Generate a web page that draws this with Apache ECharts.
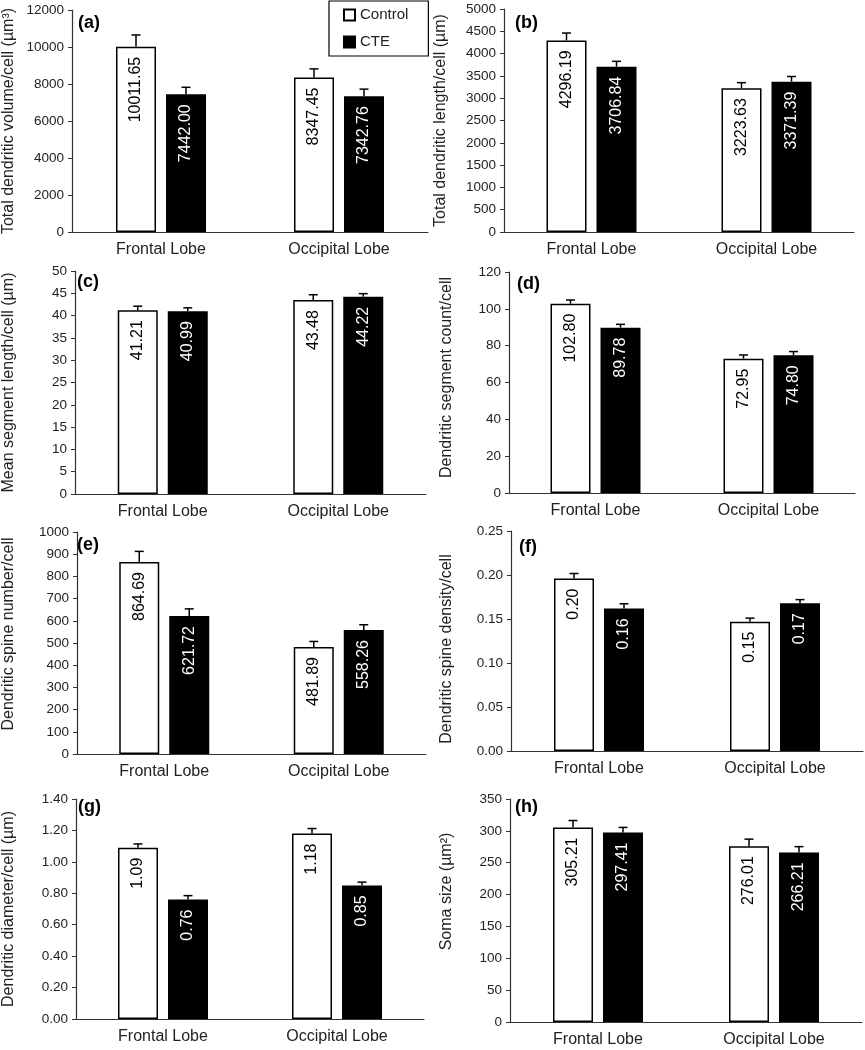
<!DOCTYPE html>
<html>
<head>
<meta charset="utf-8">
<script src="https://cdn.jsdelivr.net/npm/echarts@6/dist/echarts.min.js"></script>
<style>
html,body{margin:0;padding:0;background:#fff;}
#chart{width:865px;height:1050px;}
</style>
</head>
<body>
<div id="chart"></div>
<script>
// ---- data ----
const categories = ['Frontal Lobe', 'Occipital Lobe'];
const seriesNames = ['Control', 'CTE'];
const panelLetters = ['(a)', '(b)', '(c)', '(d)', '(e)', '(f)', '(g)', '(h)'];
const yTitles = [
  'Total dendritic volume/cell (\u00b5m\u00b3)',
  'Total dendritic length/cell (\u00b5m)',
  'Mean segment length/cell (\u00b5m)',
  'Dendritic segment count/cell',
  'Dendritic spine number/cell',
  'Dendritic spine density/cell',
  'Dendritic diameter/cell (\u00b5m)',
  'Soma size (\u00b5m\u00b2)'
];
const yMax = [12000, 5000, 50, 120, 1000, 0.25, 1.40, 350];
const yInterval = [2000, 500, 5, 20, 100, 0.05, 0.20, 50];
const yDecimals = [0, 0, 0, 0, 0, 2, 2, 0];

const controlA = [10011.65, 8347.45], cteA = [7442.00, 7342.76];
const errControlA = [640, 470],       errCteA = [380, 380];
const controlB = [4296.19, 3223.63],  cteB = [3706.84, 3371.39];
const errControlB = [165, 125],       errCteB = [120, 115];
const controlC = [41.21, 43.48],      cteC = [40.99, 44.22];
const errControlC = [0.9, 1.2],       errCteC = [0.75, 0.7];
const controlD = [102.80, 72.95],     cteD = [89.78, 74.80];
const errControlD = [2.0, 2.0],       errCteD = [1.8, 2.0];
const controlE = [864.69, 481.89],    cteE = [621.72, 558.26];
const errControlE = [48, 25],         errCteE = [32, 24];
const controlF = [0.196, 0.147],      cteF = [0.162, 0.168];
const errControlF = [0.0057, 0.004],  errCteF = [0.0053, 0.004];
const controlG = [1.09, 1.18],        cteG = [0.76, 0.85];
const errControlG = [0.024, 0.032],   errCteG = [0.025, 0.021];
const controlH = [305.21, 276.01],    cteH = [297.41, 266.21];
const errControlH = [11, 11],         errCteH = [8, 9];

const controlVals = [controlA, controlB, controlC, controlD, controlE, controlF, controlG, controlH];
const cteVals = [cteA, cteB, cteC, cteD, cteE, cteF, cteG, cteH];
const controlErr = [errControlA, errControlB, errControlC, errControlD, errControlE, errControlF, errControlG, errControlH];
const cteErr = [errCteA, errCteB, errCteC, errCteD, errCteE, errCteF, errCteG, errCteH];

// ---- layout (pixels) ----
const grids = [
  {left: 72,  top: 10,  width: 356, height: 222},
  {left: 504, top: 9,   width: 350, height: 223},
  {left: 74,  top: 271, width: 352, height: 223},
  {left: 509, top: 272, width: 346, height: 221},
  {left: 73,  top: 532, width: 353, height: 222},
  {left: 511, top: 531, width: 352, height: 220},
  {left: 72,  top: 799, width: 352, height: 220},
  {left: 510, top: 799, width: 352, height: 223}
];
const nameGaps = [55, 55, 58, 54, 60, 56, 59, 55];
// [left, right] padding on the rotated axis name (left moves it up, right moves it down)
const namePads = [[0, 0], [0, 0], [0, 0], [10, 0], [18, 0], [0, 16], [0, 0], [38, 0]];
const letterPos = [[78, 14], [515, 14], [77, 273], [517, 275], [77, 536], [519, 538], [78, 798], [515, 798]];

const FONT = '"Liberation Sans", Arial, sans-serif';
const BAR_W = 40, HALF_OFF = 25;

const xAxes = [], yAxes = [], series = [], graphics = [];

function errRender(offset) {
  return function (params, api) {
    const x = api.value(0), v = api.value(1), e = api.value(2);
    const p0 = api.coord([x, v]);
    const p1 = api.coord([x, v + e]);
    const cx = p0[0] + offset;
    const st = {stroke: '#000', lineWidth: 1.5};
    return {
      type: 'group',
      children: [
        {type: 'line', shape: {x1: cx, y1: p0[1], x2: cx, y2: p1[1]}, style: st},
        {type: 'line', shape: {x1: cx - 4.5, y1: p1[1], x2: cx + 4.5, y2: p1[1]}, style: st}
      ]
    };
  };
}

for (let i = 0; i < 8; i++) {
  xAxes.push({
    type: 'category', gridIndex: i, data: categories,
    axisTick: {show: false},
    axisLine: {lineStyle: {color: '#333', width: 1.2}},
    axisLabel: {fontSize: 16, color: '#222', margin: 10, fontFamily: FONT}
  });
  const dec = yDecimals[i];
  yAxes.push({
    type: 'value', gridIndex: i, min: 0, max: yMax[i], interval: yInterval[i],
    splitLine: {show: false},
    axisLine: {show: true, lineStyle: {color: '#333', width: 1.2}},
    axisTick: {show: true, length: 4, lineStyle: {color: '#333'}},
    axisLabel: {fontSize: 13.5, color: '#222', margin: 8, fontFamily: FONT,
      formatter: v => v.toFixed(dec)},
    name: yTitles[i], nameLocation: 'middle', nameGap: nameGaps[i],
    nameTextStyle: {fontSize: 16, color: '#222', fontFamily: FONT,
      padding: [0, namePads[i][1], 0, namePads[i][0]]}
  });
  const lbl = (color) => ({
    show: true, position: 'insideTop', rotate: 90, align: 'right', verticalAlign: 'middle',
    distance: 10, color: color, fontSize: 16, fontFamily: FONT,
    formatter: p => p.value.toFixed(2)
  });
  series.push({
    name: seriesNames[0], type: 'bar', xAxisIndex: i, yAxisIndex: i,
    data: controlVals[i], barWidth: BAR_W, barGap: '25%',
    itemStyle: {color: '#fff', borderColor: '#000', borderWidth: 1.5},
    label: lbl('#000'), silent: true, animation: false
  });
  series.push({
    name: seriesNames[1], type: 'bar', xAxisIndex: i, yAxisIndex: i,
    data: cteVals[i], barWidth: BAR_W, barGap: '25%',
    itemStyle: {color: '#000', borderColor: '#000', borderWidth: 1.5},
    label: lbl('#fff'), silent: true, animation: false
  });
  series.push({
    name: 'Control error', type: 'custom', xAxisIndex: i, yAxisIndex: i,
    renderItem: errRender(-HALF_OFF), encode: {x: 0, y: 1}, z: 5,
    data: controlVals[i].map((v, k) => [k, v, controlErr[i][k]]), animation: false, silent: true
  });
  series.push({
    name: 'CTE error', type: 'custom', xAxisIndex: i, yAxisIndex: i,
    renderItem: errRender(HALF_OFF), encode: {x: 0, y: 1}, z: 5,
    data: cteVals[i].map((v, k) => [k, v, cteErr[i][k]]), animation: false, silent: true
  });
  graphics.push({
    type: 'text', left: letterPos[i][0], top: letterPos[i][1], z: 10,
    style: {text: panelLetters[i], font: 'bold 18px ' + FONT, fill: '#000'}
  });
}

const chart = echarts.init(document.getElementById('chart'), null, {renderer: 'canvas'});
chart.setOption({
  backgroundColor: '#fff',
  animation: false,
  grid: grids,
  xAxis: xAxes,
  yAxis: yAxes,
  series: series,
  graphic: graphics,
  legend: {
    data: seriesNames,
    left: 329, top: 1,
    orient: 'vertical',
    icon: 'rect',
    itemWidth: 11, itemHeight: 11, itemGap: 11,
    padding: [6, 20, 6, 14],
    borderColor: '#000', borderWidth: 1.2,
    textStyle: {fontSize: 15, color: '#222', fontFamily: FONT, lineHeight: 16},
    selectedMode: false
  }
});
</script>
</body>
</html>
